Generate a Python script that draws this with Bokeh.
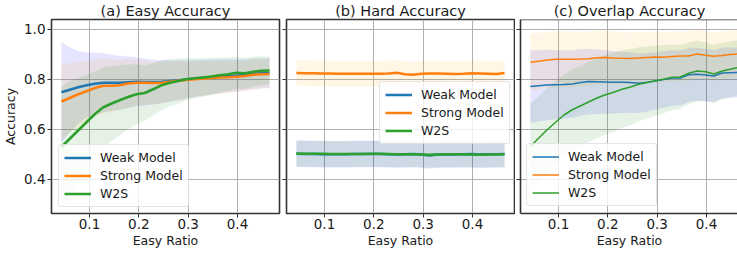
from bokeh.plotting import figure
from bokeh.layouts import row
from bokeh.models import Range1d, FixedTicker, Span, CustomLabelingPolicy
from bokeh.embed import file_html
from bokeh.resources import INLINE

# ---------------- data ----------------
easy_ratio = [0.043, 0.060, 0.077, 0.094, 0.111, 0.128, 0.145, 0.161, 0.178, 0.195,
              0.212, 0.229, 0.246, 0.263, 0.280, 0.296, 0.313, 0.330, 0.347, 0.364,
              0.381, 0.398, 0.415, 0.432, 0.448, 0.465]

series_names = ["Weak Model", "Strong Model", "W2S"]
panel_titles = ["(a) Easy Accuracy", "(b) Hard Accuracy", "(c) Overlap Accuracy"]
x_ticks = [0.1, 0.2, 0.3, 0.4]
y_ticks = [0.4, 0.6, 0.8, 1.0]
y_tick_labels = ["0.4", "0.6", "0.8", "1.0"]

# (a) Easy accuracy
easy_weak = [0.748, 0.758, 0.768, 0.776, 0.782, 0.786, 0.786, 0.786, 0.788, 0.790,
             0.789, 0.789, 0.790, 0.793, 0.796, 0.799, 0.803, 0.806, 0.809, 0.812,
             0.814, 0.815, 0.818, 0.821, 0.824, 0.825]
easy_strong = [0.711, 0.725, 0.740, 0.752, 0.765, 0.774, 0.774, 0.776, 0.783, 0.786,
               0.786, 0.785, 0.786, 0.790, 0.794, 0.797, 0.800, 0.802, 0.805, 0.807,
               0.808, 0.810, 0.813, 0.818, 0.820, 0.821]
easy_w2s = [0.529, 0.562, 0.595, 0.628, 0.661, 0.688, 0.703, 0.716, 0.729, 0.740,
            0.745, 0.760, 0.776, 0.786, 0.793, 0.800, 0.804, 0.807, 0.811, 0.816,
            0.820, 0.826, 0.824, 0.830, 0.834, 0.835]
easy_weak_sd = [0.200, 0.170, 0.145, 0.130, 0.125, 0.118, 0.112, 0.108, 0.103, 0.098,
                0.094, 0.090, 0.086, 0.083, 0.080, 0.077, 0.074, 0.072, 0.070, 0.068,
                0.066, 0.064, 0.062, 0.061, 0.060, 0.060]
easy_strong_sd = [0.150, 0.140, 0.130, 0.120, 0.115, 0.110, 0.105, 0.100, 0.096, 0.092,
                  0.088, 0.085, 0.082, 0.079, 0.076, 0.073, 0.071, 0.069, 0.067, 0.065,
                  0.063, 0.062, 0.061, 0.060, 0.059, 0.058]
easy_w2s_sd = [0.240, 0.230, 0.210, 0.190, 0.170, 0.160, 0.150, 0.140, 0.130, 0.120,
               0.110, 0.105, 0.100, 0.095, 0.090, 0.085, 0.080, 0.077, 0.074, 0.071,
               0.068, 0.065, 0.062, 0.060, 0.058, 0.056]

# (b) Hard accuracy
hard_weak = [0.502, 0.501, 0.501, 0.500, 0.500, 0.500, 0.500, 0.501, 0.501, 0.501,
             0.501, 0.500, 0.499, 0.500, 0.501, 0.499, 0.495, 0.499, 0.500, 0.499,
             0.500, 0.501, 0.499, 0.500, 0.500, 0.501]
hard_strong = [0.825, 0.824, 0.824, 0.823, 0.823, 0.822, 0.822, 0.822, 0.822, 0.822,
               0.822, 0.823, 0.826, 0.820, 0.818, 0.822, 0.823, 0.823, 0.822, 0.821,
               0.822, 0.824, 0.823, 0.822, 0.821, 0.825]
hard_w2s = [0.503, 0.502, 0.502, 0.502, 0.501, 0.501, 0.501, 0.501, 0.501, 0.502,
            0.502, 0.501, 0.500, 0.500, 0.500, 0.499, 0.498, 0.499, 0.500, 0.500,
            0.500, 0.499, 0.498, 0.499, 0.499, 0.500]
hard_weak_sd = [0.053] * 26
hard_strong_sd = [0.051] * 26
hard_w2s_sd = [0.052] * 26

# (c) Overlap accuracy
overlap_weak = [0.771, 0.774, 0.777, 0.778, 0.779, 0.781, 0.787, 0.791, 0.790, 0.789,
                0.788, 0.788, 0.787, 0.784, 0.788, 0.793, 0.799, 0.805, 0.805, 0.818,
                0.820, 0.817, 0.813, 0.825, 0.826, 0.827]
overlap_strong = [0.868, 0.872, 0.877, 0.880, 0.880, 0.880, 0.881, 0.882, 0.886, 0.887,
                  0.885, 0.884, 0.883, 0.885, 0.887, 0.889, 0.888, 0.891, 0.893, 0.893,
                  0.901, 0.896, 0.892, 0.895, 0.899, 0.902]
overlap_w2s = [0.531, 0.565, 0.598, 0.628, 0.657, 0.678, 0.694, 0.709, 0.725, 0.738,
               0.748, 0.760, 0.769, 0.780, 0.787, 0.794, 0.800, 0.808, 0.809, 0.824,
               0.833, 0.830, 0.821, 0.833, 0.840, 0.847]
overlap_weak_sd = [0.145, 0.143, 0.141, 0.139, 0.137, 0.135, 0.133, 0.131, 0.129, 0.127,
                   0.125, 0.123, 0.121, 0.119, 0.117, 0.115, 0.113, 0.111, 0.110, 0.108,
                   0.106, 0.105, 0.104, 0.102, 0.101, 0.100]
overlap_strong_sd = [0.115, 0.114, 0.113, 0.112, 0.112, 0.111, 0.110, 0.109, 0.108, 0.107,
                     0.106, 0.105, 0.104, 0.103, 0.102, 0.102, 0.101, 0.100, 0.099, 0.098,
                     0.098, 0.097, 0.096, 0.096, 0.095, 0.095]
overlap_w2s_sd = [0.170, 0.168, 0.166, 0.164, 0.163, 0.162, 0.161, 0.160, 0.160, 0.160,
                  0.158, 0.155, 0.152, 0.148, 0.144, 0.140, 0.136, 0.132, 0.128, 0.124,
                  0.121, 0.118, 0.116, 0.114, 0.112, 0.110]

line_colors = ["#1f77b4", "#ff7f0e", "#2ca02c"]
band_colors = ["blue", "orange", "green"]

FONT = "DejaVu Sans"
TEXT = "#1a1a1a"
FRAME = "#333333"
FH = 194
Y0, Y1 = 0.263, 1.039
SCALE = 493.3  # px per unit x


def make_panel(idx, means, sds, lw, legend_loc, frame_w, x_start, x_end, first, title_offset=0):
    p = figure(output_backend="svg", toolbar_location=None,
               frame_width=frame_w, frame_height=FH,
               x_range=Range1d(x_start, x_end), y_range=Range1d(Y0, Y1),
               min_border_left=42 if first else 5,
               min_border_right=2 if idx == 0 else (1 if idx == 1 else 0),
               min_border_top=0, min_border_bottom=0,
               title=panel_titles[idx])
    p.title.text_font = FONT
    p.title.text_font_size = "14.5px"
    p.title.text_font_style = "normal"
    p.title.text_color = TEXT
    p.title.align = "center"
    p.title.standoff = 1
    p.title.offset = title_offset

    for name, m, s, lc, bc in zip(series_names, means, sds, line_colors, band_colors):
        lo = [a - b for a, b in zip(m, s)]
        hi = [a + b for a, b in zip(m, s)]
        p.varea(x=easy_ratio, y1=lo, y2=hi, fill_color=bc, fill_alpha=0.1)
    for name, m, s, lc, bc in zip(series_names, means, sds, line_colors, band_colors):
        p.line(easy_ratio, m, line_color=lc, line_width=lw, legend_label=name)

    # axes
    p.xaxis.ticker = FixedTicker(ticks=x_ticks)
    p.yaxis.ticker = FixedTicker(ticks=y_ticks)
    for ax in (p.xaxis[0], p.yaxis[0]):
        ax.major_tick_out = 4
        ax.major_tick_in = 0
        ax.minor_tick_out = 0
        ax.minor_tick_in = 0
        ax.major_tick_line_color = FRAME
        ax.major_label_text_font = FONT
        ax.major_label_text_font_size = "13.5px"
        ax.major_label_text_color = TEXT
        ax.axis_label_text_font = FONT
        ax.axis_label_text_font_size = "12.5px"
        ax.axis_label_text_font_style = "normal"
        ax.axis_label_text_color = TEXT
    p.xaxis.major_label_standoff = 1
    p.xaxis.axis_label = "Easy Ratio"
    p.xaxis.axis_label_standoff = 1
    if first:
        p.yaxis.axis_label = "Accuracy"
        p.yaxis.axis_label_standoff = 3
        p.yaxis.major_label_standoff = 2
        p.yaxis.major_label_overrides = {t: l for t, l in zip(y_ticks, y_tick_labels)}
    else:
        # shared y axis: tick marks only, no tick labels
        p.yaxis.major_label_text_font_size = "0px"
        p.yaxis.major_label_policy = CustomLabelingPolicy(code="return new Set()")
        p.yaxis.major_label_standoff = 0

    if idx == 2:
        p.outline_line_color = None
        p.xaxis.axis_line_color = FRAME
        p.yaxis.axis_line_color = FRAME
        p.xaxis.axis_line_width = 1.6
        p.yaxis.axis_line_width = 1.6
        p.add_layout(Span(location=Y1, dimension="width", line_color=FRAME, line_width=1.6))
    else:
        p.xaxis.axis_line_color = None
        p.yaxis.axis_line_color = None
        p.outline_line_color = FRAME
        p.outline_line_width = 1.6
        p.outline_line_alpha = 1.0

    p.xgrid.grid_line_color = "#b0b0b0"
    p.ygrid.grid_line_color = "#b0b0b0"
    p.xgrid.grid_line_width = 1
    p.ygrid.grid_line_width = 1
    p.background_fill_color = "white"
    p.border_fill_color = "white"

    lg = p.legend[0]
    lg.location = legend_loc
    lg.margin = 0
    lg.padding = 5
    lg.spacing = 3
    lg.glyph_width = 27
    lg.glyph_height = 15
    lg.label_height = 15
    lg.label_standoff = 9
    lg.label_text_font = FONT
    lg.label_text_font_size = "12.5px"
    lg.label_text_color = TEXT
    lg.border_line_color = "#cccccc"
    lg.border_line_width = 1
    lg.background_fill_alpha = 0.8
    lg.border_radius = 3
    return p


x_lo = 0.1 - 38.0 / SCALE
x_hi = x_lo + 228.0 / SCALE

pa = make_panel(0, [easy_weak, easy_strong, easy_w2s],
                [easy_weak_sd, easy_strong_sd, easy_w2s_sd], 2.5, (7, 6), 228, x_lo, x_hi, True)
pb = make_panel(1, [hard_weak, hard_strong, hard_w2s],
                [hard_weak_sd, hard_strong_sd, hard_w2s_sd], 2.5, (93, 69), 228, x_lo, x_hi, False)
pc = make_panel(2, [overlap_weak, overlap_strong, overlap_w2s],
                [overlap_weak_sd, overlap_strong_sd, overlap_w2s_sd], 1.5, (6, 7), 218,
                x_lo, x_lo + 218.0 / SCALE, False, title_offset=5)

layout = row(pa, pb, pc, spacing=0)
open("out.html", "w").write(file_html(layout, INLINE))
